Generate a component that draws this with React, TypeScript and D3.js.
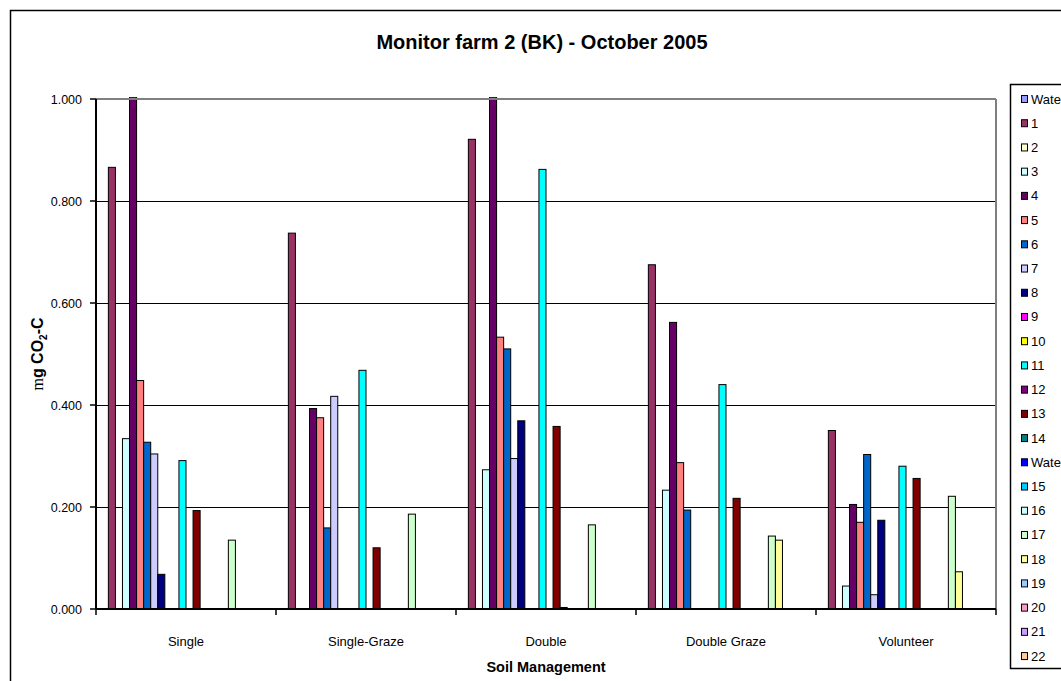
import React from 'react';
import * as d3 from 'd3';

// Soil respiration, monitor farm 2 (BK), October 2005
const categories = ['Single', 'Single-Graze', 'Double', 'Double Graze', 'Volunteer'];

const seriesNames = [
  'Water', '1', '2', '3', '4', '5', '6', '7', '8', '9', '10', '11', '12', '13', '14',
  'Water', '15', '16', '17', '18', '19', '20', '21', '22',
];

const seriesColors = [
  '#9999FF', '#993366', '#FFFFCC', '#CCFFFF', '#660066', '#FF8080', '#0066CC', '#CCCCFF',
  '#000080', '#FF00FF', '#FFFF00', '#00FFFF', '#800080', '#800000', '#008080', '#0000FF',
  '#00CCFF', '#CCFFFF', '#CCFFCC', '#FFFF99', '#99CCFF', '#FF99CC', '#CC99FF', '#FFCC99',
];

// One value per series (in seriesNames order); null = no sample
const singleValues = [null, 0.866, null, 0.334, 1.02, 0.448, 0.327, 0.304, 0.068, null, null, 0.291, null, 0.193, null, null, null, null, 0.135, null, null, null, null, null];
const singleGrazeValues = [null, 0.737, null, null, 0.393, 0.375, 0.159, 0.417, null, null, null, 0.468, null, 0.12, null, null, null, null, 0.186, null, null, null, null, null];
const doubleValues = [null, 0.921, null, 0.273, 1.02, 0.533, 0.51, 0.295, 0.369, null, null, 0.862, null, 0.358, 0.003, null, null, null, 0.165, null, null, null, null, null];
const doubleGrazeValues = [null, 0.675, null, 0.233, 0.562, 0.287, 0.194, null, null, null, null, 0.44, null, 0.217, null, null, null, null, 0.143, 0.135, null, null, null, null];
const volunteerValues = [null, 0.35, null, 0.045, 0.205, 0.17, 0.303, 0.028, 0.174, null, null, 0.28, null, 0.256, null, null, null, null, 0.221, 0.073, null, null, null, null];

const yTicks = [0, 0.2, 0.4, 0.6, 0.8, 1.0];

const valuesByCategory = [singleValues, singleGrazeValues, doubleValues, doubleGrazeValues, volunteerValues];

const W = 1061;
const H = 681;
const plot = { left: 96, right: 996, top: 99, bottom: 609 };
const FONT = 'Arial, "Liberation Sans", Helvetica, sans-serif';

export default function App() {
  const x = d3.scaleBand<string>().domain(categories).range([plot.left, plot.right]).paddingInner(0).paddingOuter(0);
  const xs = d3
    .scaleBand<string>()
    .domain(seriesNames.map((_, i) => String(i)))
    .range([0, x.bandwidth()])
    .paddingInner(0)
    .paddingOuter(0.75);
  const y = d3.scaleLinear().domain([0, 1]).range([plot.bottom, plot.top]);
  const fmt = d3.format('.3f');

  const legendTop = 99;
  const legendStep = 24.22;

  return (
    <svg width={W} height={H} style={{ position: 'absolute', left: 0, top: 0, background: '#fff' }} fontFamily={FONT}>
      <defs>
        <clipPath id="plotClip">
          <rect x={plot.left} y={plot.top - 2} width={plot.right - plot.left} height={plot.bottom - plot.top + 2} />
        </clipPath>
      </defs>
      <rect x={0} y={0} width={W} height={H} fill="#fff" />
      {/* chart frame */}
      <rect x={10.5} y={10.5} width={1200} height={800} fill="none" stroke="#000" strokeWidth={1.5} />

      <text x={542} y={49} textAnchor="middle" fontSize={20} fontWeight="bold" fill="#000">
        Monitor farm 2 (BK) - October 2005
      </text>

      {/* gridlines */}
      {yTicks.slice(1, -1).map((t) => (
        <line key={t} x1={plot.left} x2={plot.right} y1={Math.round(y(t)) + 0.5} y2={Math.round(y(t)) + 0.5} stroke="#000" strokeWidth={1} />
      ))}

      {/* bars */}
      <g clipPath="url(#plotClip)">
        {categories.map((c, ci) =>
          valuesByCategory[ci].map((v, si) => {
            if (v === null) return null;
            const bx = (x(c) as number) + (xs(String(si)) as number);
            const by = y(v);
            return (
              <rect
                key={`${ci}-${si}`}
                x={bx}
                y={by}
                width={xs.bandwidth()}
                height={Math.max(0, plot.bottom - by)}
                fill={seriesColors[si]}
                stroke="#000"
                strokeWidth={1}
              />
            );
          })
        )}
      </g>

      {/* plot border (top / right) */}
      <line x1={plot.left} x2={plot.right} y1={plot.top} y2={plot.top} stroke="#808080" strokeWidth={2} />
      <line x1={plot.right} x2={plot.right} y1={plot.top} y2={plot.bottom} stroke="#808080" strokeWidth={2} />

      {/* y axis */}
      <line x1={plot.left} x2={plot.left} y1={plot.top} y2={plot.bottom} stroke="#000" strokeWidth={2} />
      {yTicks.map((t) => (
        <g key={t}>
          <line x1={plot.left - 6} x2={plot.left} y1={y(t)} y2={y(t)} stroke="#000" strokeWidth={1.5} />
          <text x={82} y={y(t) + 4.5} textAnchor="end" fontSize={12.5} fill="#000">
            {fmt(t)}
          </text>
        </g>
      ))}

      {/* x axis */}
      <line x1={plot.left} x2={plot.right} y1={plot.bottom} y2={plot.bottom} stroke="#000" strokeWidth={2} />
      {[...categories.map((c) => x(c) as number), plot.right].map((tx, i) => (
        <line key={i} x1={tx} x2={tx} y1={plot.bottom} y2={plot.bottom + 6} stroke="#000" strokeWidth={1.5} />
      ))}
      {categories.map((c) => (
        <text key={c} x={(x(c) as number) + x.bandwidth() / 2} y={646} textAnchor="middle" fontSize={13} fill="#000">
          {c}
        </text>
      ))}

      <text x={(plot.left + plot.right) / 2} y={672} textAnchor="middle" fontSize={14.5} fontWeight="bold" fill="#000">
        Soil Management
      </text>

      <text transform={`translate(43, ${(plot.top + plot.bottom) / 2}) rotate(-90)`} textAnchor="middle" fontSize={16} fontWeight="bold" fill="#000">
        <tspan fontFamily="'Liberation Serif', serif" fontWeight="normal">m</tspan>
        <tspan>g CO</tspan>
        <tspan fontSize={10} dy={4}>2</tspan>
        <tspan dy={-4}>-C</tspan>
      </text>

      {/* legend */}
      <rect x={1010.5} y={84.5} width={120} height={584} fill="#fff" stroke="#000" strokeWidth={1.5} />
      {seriesNames.map((n, i) => {
        const cy = legendTop + i * legendStep;
        return (
          <g key={i}>
            <rect x={1021.5} y={cy - 3.5} width={6} height={7} fill={seriesColors[i]} stroke="#000" strokeWidth={1} />
            <text x={1031} y={cy + 4.5} fontSize={13} fill="#000">
              {n}
            </text>
          </g>
        );
      })}
    </svg>
  );
}
